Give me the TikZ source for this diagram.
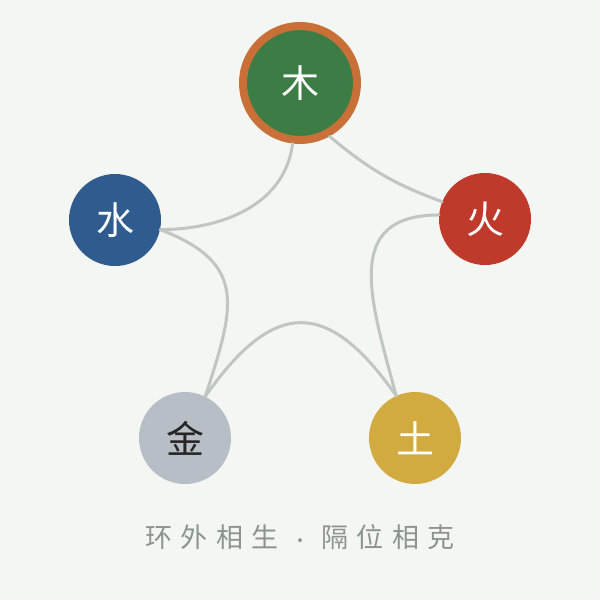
\documentclass[tikz,border=0pt]{standalone}
\usepackage{fontspec}
\usepackage{xcolor}
\newfontfamily\cjk{Noto Sans CJK SC}
\newfontfamily\capfont[LetterSpace=31]{Noto Sans CJK SC}
\definecolor{bgcol}{HTML}{F4F6F3}
\definecolor{linkcol}{HTML}{C0C6C2}
\definecolor{mucol}{HTML}{3B7D44}
\definecolor{ringcol}{HTML}{C96F38}
\definecolor{shuicol}{HTML}{2F5B8F}
\definecolor{huocol}{HTML}{BF3A2B}
\definecolor{jincol}{HTML}{B8BEC5}
\definecolor{tucol}{HTML}{D2AB40}
\definecolor{capcol}{HTML}{8C9490}
\begin{document}
\begin{tikzpicture}[x=1pt,y=1pt]
            \tikzstyle{every node}+=[inner sep=0pt]
            \tikzstyle{element}=[circle, minimum size=92pt, text=white, font=\cjk\fontsize{38}{38}\selectfont]
            \tikzstyle{link}=[draw=linkcol, line width=3pt, line cap=round]
            \fill [bgcol] (0,0) rectangle (600,-600);
            \useasboundingbox (0,0) rectangle (600,-600);
            % five elements
            \node [element, fill=mucol, draw=ringcol, line width=8pt, minimum size=114pt] (mu) at (300,-83) {木};
            \node [element, fill=shuicol] (shui) at (115,-220) {水};
            \node [element, fill=huocol] (huo) at (485,-219) {火};
            \node [element, fill=jincol, text=black!85] (jin) at (185,-438) {金};
            \node [element, fill=tucol] (tu) at (415,-438) {土};
            % generating cycle
            \draw [link] (mu.-97) to [out=-97, in=0] (shui.-12);
            \draw [link] (mu.-61) to [out=-40, in=160] (huo.158);
            \draw [link] (huo.175) to [out=180, in=105, looseness=1.35] (tu.114);
            \draw [link] (tu.114) to [out=125, in=55, looseness=1.6] (jin.64);
            \draw [link] (jin.64) to [out=72, in=-21, looseness=1.4] (shui.-12);
            % caption
            \node [text=capcol, font=\capfont\fontsize{27}{27}\selectfont] (caption) at (300,-537) {环外相生\hspace{-2pt} {\fontsize{18}{18}\selectfont·} \hspace{-2pt}隔位相克};
\end{tikzpicture}
\end{document}
